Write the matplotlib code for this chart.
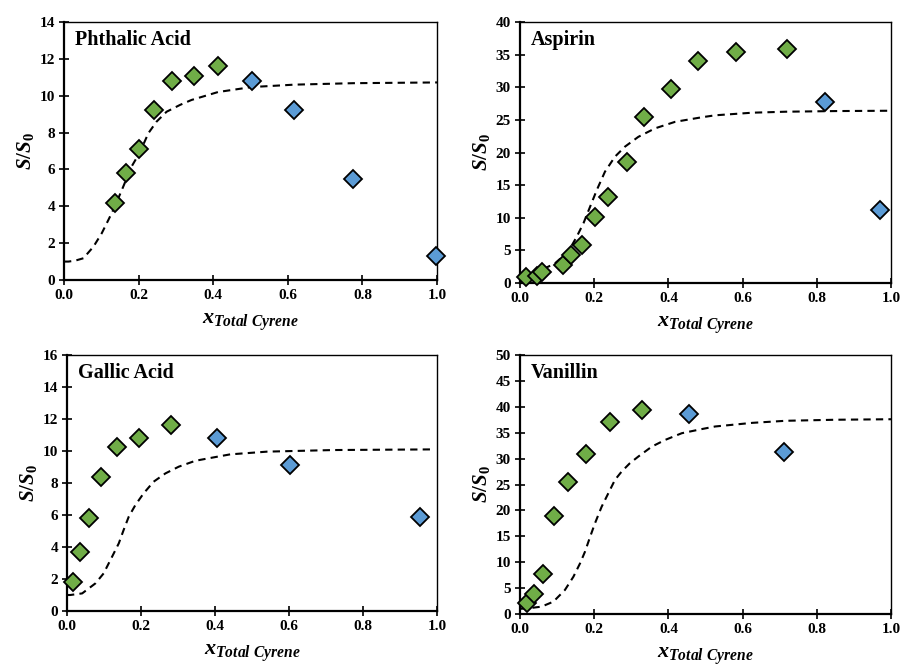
import matplotlib
matplotlib.use("Agg")
import matplotlib.pyplot as plt
from matplotlib.ticker import MultipleLocator, FormatStrFormatter

plt.rcParams['font.family'] = ['Liberation Serif', 'DejaVu Serif']
plt.rcParams['mathtext.fontset'] = 'custom'
plt.rcParams['mathtext.rm'] = 'Liberation Serif:bold'
plt.rcParams['mathtext.it'] = 'Liberation Serif:bold:italic'
plt.rcParams['mathtext.bf'] = 'Liberation Serif:bold'

GREEN = '#70AD47'
BLUE = '#5B9BD5'

# ---- Phthalic Acid ----
pa_green_x = [0.137, 0.166, 0.202, 0.242, 0.290, 0.349, 0.413]
pa_green_y = [4.20, 5.78, 7.12, 9.24, 10.80, 11.07, 11.63]
pa_blue_x = [0.503, 0.617, 0.776, 0.996]
pa_blue_y = [10.80, 9.24, 5.50, 1.29]
pa_fit_x = [0.0, 0.012, 0.030, 0.052, 0.079, 0.101, 0.119, 0.132, 0.155, 0.181, 0.204, 0.226,
            0.248, 0.275, 0.311, 0.342, 0.413, 0.503, 0.617, 0.776, 1.0]
pa_fit_y = [1.0, 1.0, 1.05, 1.18, 1.81, 2.53, 3.26, 3.80, 4.88, 6.15, 6.95, 7.96,
            8.59, 9.13, 9.50, 9.77, 10.20, 10.47, 10.60, 10.68, 10.72]

# ---- Aspirin ----
as_green_x = [0.015, 0.047, 0.060, 0.116, 0.138, 0.166, 0.201, 0.237, 0.289, 0.334, 0.408, 0.480, 0.582, 0.721]
as_green_y = [0.92, 1.00, 1.69, 2.80, 4.24, 5.87, 10.10, 13.20, 18.50, 25.50, 29.70, 34.00, 35.45, 35.86]
as_blue_x = [0.821, 0.970]
as_blue_y = [27.80, 11.24]
as_fit_x = [0.0, 0.040, 0.067, 0.094, 0.130, 0.153, 0.171, 0.189, 0.207, 0.229, 0.256, 0.283,
            0.319, 0.364, 0.418, 0.490, 0.526, 0.626, 0.716, 0.850, 1.0]
as_fit_y = [1.0, 1.48, 2.25, 3.0, 4.80, 7.10, 9.15, 11.7, 14.25, 17.06, 19.36, 20.9,
            22.4, 23.7, 24.7, 25.4, 25.7, 26.1, 26.25, 26.35, 26.4]

# ---- Gallic Acid ----
ga_green_x = [0.015, 0.034, 0.059, 0.092, 0.134, 0.195, 0.280]
ga_green_y = [1.81, 3.69, 5.83, 8.38, 10.27, 10.83, 11.63]
ga_blue_x = [0.406, 0.602, 0.955]
ga_blue_y = [10.83, 9.13, 5.90]
ga_fit_x = [0.0, 0.009, 0.041, 0.077, 0.099, 0.122, 0.140, 0.153, 0.167, 0.185, 0.207, 0.234,
            0.266, 0.302, 0.347, 0.396, 0.441, 0.541, 0.720, 0.986]
ga_fit_y = [1.0, 1.0, 1.1, 1.73, 2.35, 3.4, 4.23, 5.06, 5.9, 6.63, 7.35, 8.08,
            8.6, 9.02, 9.39, 9.6, 9.79, 9.96, 10.06, 10.10]

# ---- Vanillin ----
va_green_x = [0.019, 0.038, 0.061, 0.092, 0.130, 0.179, 0.243, 0.328]
va_green_y = [2.06, 3.90, 7.70, 19.00, 25.50, 30.80, 37.00, 39.30]
va_blue_x = [0.456, 0.711]
va_blue_y = [38.70, 31.30]
va_fit_x = [0.0, 0.022, 0.058, 0.090, 0.121, 0.144, 0.162, 0.175, 0.189, 0.202, 0.220, 0.238,
            0.256, 0.274, 0.296, 0.319, 0.355, 0.391, 0.436, 0.490, 0.526, 0.626, 0.716, 0.850, 1.0]
va_fit_y = [1.0, 1.1, 1.42, 2.38, 4.63, 7.2, 9.8, 12.0, 14.9, 17.5, 20.7, 23.3,
            25.9, 27.5, 29.1, 30.4, 32.3, 33.6, 34.9, 35.7, 36.2, 36.9, 37.3, 37.5, 37.6]

panels = [
    ("Phthalic Acid", pa_green_x, pa_green_y, pa_blue_x, pa_blue_y, pa_fit_x, pa_fit_y, 14, 2,
     [64/904, 1-280/666, 373/904, 258/666]),
    ("Aspirin", as_green_x, as_green_y, as_blue_x, as_blue_y, as_fit_x, as_fit_y, 40, 5,
     [520/904, 1-283/666, 371/904, 261/666]),
    ("Gallic Acid", ga_green_x, ga_green_y, ga_blue_x, ga_blue_y, ga_fit_x, ga_fit_y, 16, 2,
     [67/904, 1-611/666, 370/904, 256/666]),
    ("Vanillin", va_green_x, va_green_y, va_blue_x, va_blue_y, va_fit_x, va_fit_y, 50, 5,
     [520/904, 1-614/666, 371/904, 259/666]),
]

fig = plt.figure(figsize=(9.04, 6.66), dpi=100)
for title, gx, gy, bx, by, fx, fy, ymax, ystep, rect in panels:
    ax = fig.add_axes(rect)
    ax.plot(fx, fy, linestyle=(0, (3.5, 2.5)), color='black', linewidth=1.5, zorder=2)
    ax.plot(gx, gy, linestyle='none', marker='D', markersize=9, markerfacecolor=GREEN,
            markeredgecolor='black', markeredgewidth=1.3, zorder=3, clip_on=False)
    ax.plot(bx, by, linestyle='none', marker='D', markersize=9, markerfacecolor=BLUE,
            markeredgecolor='black', markeredgewidth=1.3, zorder=3, clip_on=False)
    ax.set_xlim(0, 1)
    ax.set_ylim(0, ymax)
    ax.xaxis.set_major_locator(MultipleLocator(0.2))
    ax.yaxis.set_major_locator(MultipleLocator(ystep))
    ax.xaxis.set_major_formatter(FormatStrFormatter('%.1f'))
    ax.tick_params(direction='inout', length=7, width=1.2, labelsize=11, pad=3,
                   top=False, right=False)
    for lab in ax.get_xticklabels() + ax.get_yticklabels():
        lab.set_fontweight('bold')
    for side in ['left', 'bottom']:
        ax.spines[side].set_linewidth(1.6)
    for side in ['top', 'right']:
        ax.spines[side].set_linewidth(1.0)
    ax.set_ylabel(r'$S/S_0$', fontsize=15, labelpad=2.5)
    ax.set_xlabel(r'$x_{Total\ Cyrene}$', fontsize=16, labelpad=7)
    ax.text(0.03, 0.93, title, transform=ax.transAxes, fontsize=14.5, fontweight='bold',
            ha='left', va='center')

fig.savefig('out.png', dpi=100)
